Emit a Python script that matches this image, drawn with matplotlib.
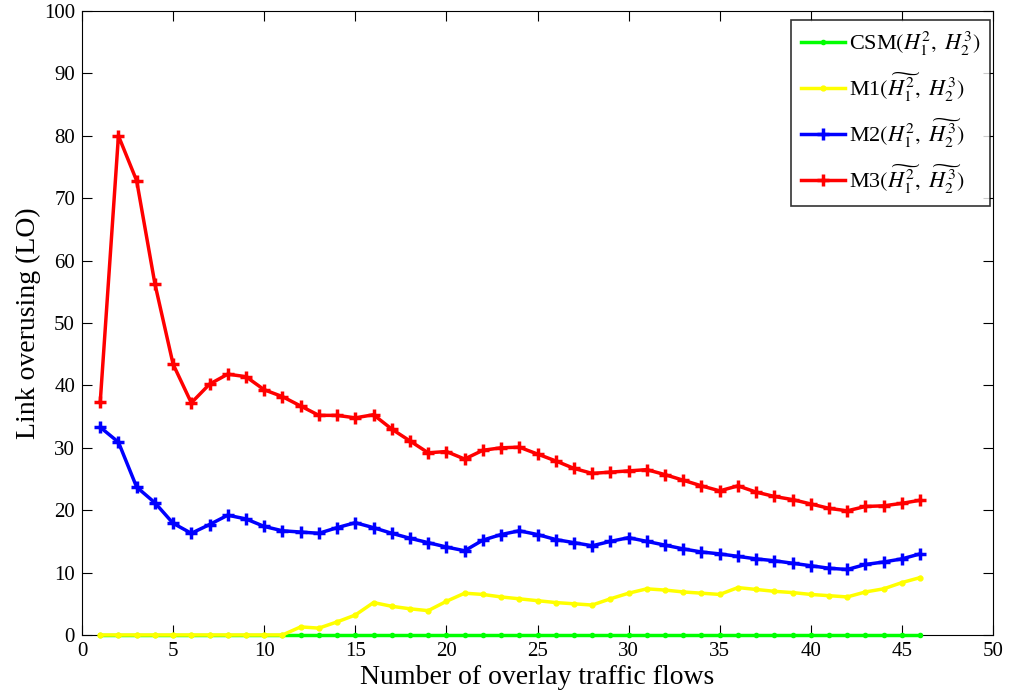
import matplotlib
matplotlib.use("Agg")
import matplotlib.pyplot as plt

x = list(range(1, 47))
csm = [0.0] * 46
m1 = [0, 0, 0, 0, 0, 0, 0, 0, 0, 0, 0,
      1.3, 1.1, 2.1, 3.2, 5.2, 4.6, 4.2, 3.9, 5.4, 6.7, 6.5, 6.1, 5.8, 5.5,
      5.2, 5.0, 4.8, 5.8, 6.7, 7.4, 7.2, 6.9, 6.7, 6.5, 7.6, 7.3, 7.0, 6.8,
      6.5, 6.3, 6.1, 6.9, 7.4, 8.4, 9.2]
m2 = [33.3, 30.9, 23.7, 21.2, 17.9, 16.3, 17.7, 19.2, 18.6, 17.4, 16.7,
      16.5, 16.3, 17.2, 18.0, 17.2, 16.3, 15.5, 14.8, 14.1, 13.5, 15.2,
      16.1, 16.7, 16.1, 15.3, 14.8, 14.3, 15.0, 15.6, 15.0, 14.4, 13.8,
      13.3, 13.0, 12.6, 12.2, 11.9, 11.5, 11.1, 10.7, 10.5, 11.3, 11.7,
      12.2, 13.0]
m3 = [37.3, 80.0, 72.8, 56.3, 43.4, 37.2, 40.2, 41.8, 41.4, 39.3, 38.2,
      36.7, 35.2, 35.2, 34.8, 35.3, 33.0, 31.1, 29.2, 29.4, 28.2, 29.6,
      30.0, 30.1, 29.0, 27.9, 26.7, 25.9, 26.1, 26.3, 26.5, 25.7, 24.8,
      23.9, 23.1, 23.9, 22.9, 22.2, 21.7, 21.0, 20.3, 19.9, 20.6, 20.7,
      21.1, 21.6]

labels = [r"CSM$(H_1^2,\ H_2^3)$",
          r"M1$(\widetilde{H_1^2},\ H_2^3)$",
          r"M2$(H_1^2,\ \widetilde{H_2^3})$",
          r"M3$(\widetilde{H_1^2},\ \widetilde{H_2^3})$"]

plt.rcParams['font.family'] = ['Liberation Serif', 'DejaVu Serif']
plt.rcParams['mathtext.fontset'] = 'stix'

fig = plt.figure(figsize=(10.11, 6.92), dpi=100)
ax = fig.add_axes([82/1011, 57/692, (993-82)/1011, (635-11)/692])

ax.plot(x, csm, color='#00ff00', lw=2.5, marker='.', ms=6, label=labels[0], clip_on=False, zorder=3)
ax.plot(x, m1, color='#ffff00', lw=2.5, marker='.', ms=7, label=labels[1], clip_on=False, zorder=3)
ax.plot(x, m2, color='#0000ff', lw=2.5, marker='+', ms=8, mew=2.5, label=labels[2], clip_on=False, zorder=3)
ax.plot(x, m3, color='#ff0000', lw=2.5, marker='+', ms=8, mew=2.5, label=labels[3], clip_on=False, zorder=3)

ax.set_xlim(0, 50)
ax.set_ylim(0, 100)
ax.set_xticks(range(0, 51, 5))
ax.set_yticks(range(0, 101, 10))
ax.tick_params(direction='in', top=True, right=True, labelsize=15, length=7, pad=5)
ax.set_xlabel("Number of overlay traffic flows", fontsize=20, labelpad=3)
ax.set_ylabel("Link overusing (LO)", fontsize=20, labelpad=2)

leg = ax.legend(loc='upper right', fontsize=16, frameon=True, fancybox=False,
                edgecolor='black', borderpad=0.45, labelspacing=0.55,
                handlelength=2.0, handletextpad=0.15, borderaxespad=0.0,
                bbox_to_anchor=(990/1011, (692-20)/692),
                bbox_transform=fig.transFigure)
leg.get_frame().set_linewidth(1.2)

fig.savefig("out.png", dpi=100)
